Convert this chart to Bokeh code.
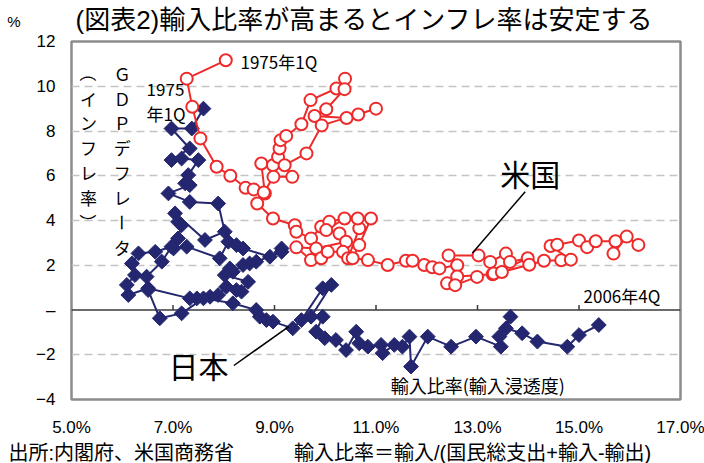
import numpy as np
from bokeh.plotting import figure
from bokeh.models import (Range1d, FixedTicker, PrintfTickFormatter, Label, Span,
                          Title, LinearAxis)
from bokeh.core.properties import value
from bokeh.embed import file_html
from bokeh.resources import INLINE

# ---------------- data ----------------
# US: import ratio (%) and GDP deflator inflation (%), 1975Q1 -> 2006Q4
us_import = [8.04, 7.27, 7.38, 7.54, 7.86, 8.13, 8.43, 8.59, 8.81,
             8.74, 8.97, 9.07, 9.10, 9.12, 9.23, 9.53, 9.71, 10.22, 10.39, 10.38,
             10.02, 9.79, 10.42, 10.65, 11.00, 9.93, 9.63, 9.20, 9.35, 8.98,
             8.79, 8.66, 8.97, 9.40, 9.43,
             9.72, 9.92, 10.08, 10.38, 10.02, 10.28, 10.41, 9.82, 9.43, 9.72,
             9.92, 10.05, 10.35, 10.45, 10.67, 10.64, 10.90, 10.67, 10.54, 10.84,
             11.23, 11.59, 11.72, 11.95, 12.11, 12.25, 12.60, 12.43, 13.02, 13.25,
             13.56, 13.64, 13.99, 13.30, 12.60, 12.40, 12.56, 12.99, 13.32, 13.48,
             14.02, 14.31, 14.65, 14.84, 14.44, 14.57, 15.00, 15.16, 15.33, 15.72,
             15.68, 15.94, 16.17]
us_inflation = [11.16, 10.34, 9.08, 7.67, 6.40, 6.00, 5.46, 5.39, 5.21,
                6.55, 6.47, 6.84, 7.22, 7.59, 7.78, 8.30, 9.38, 9.90, 10.34, 9.87,
                8.97, 8.67, 8.58, 8.74, 9.00, 8.25, 7.00, 6.47, 5.95, 5.95,
                5.25, 4.76, 4.09, 3.79, 3.50,
                3.20, 3.72, 3.94, 4.09, 3.57, 3.42, 3.05, 2.75, 2.80, 2.23,
                2.31, 2.60, 2.60, 2.31, 3.65, 4.09, 4.09, 2.90, 2.31, 2.23,
                2.01, 2.20, 2.20, 2.01, 1.91, 1.86, 2.00, 2.44, 2.44, 2.15,
                2.52, 2.15, 2.31, 1.60, 1.50, 1.19, 1.11, 1.48, 1.63, 1.70,
                2.02, 2.20, 2.22, 2.25, 2.86, 2.92, 3.11, 2.81, 3.07, 3.07,
                2.52, 3.28, 2.91]

# Japan: import ratio (%) and GDP deflator inflation (%), 1975Q1 -> 2006Q4
jp_import = [7.60, 7.37, 6.97, 7.33, 6.97, 7.17, 7.50, 7.30, 7.24, 7.33,
             6.91, 7.33, 7.89, 8.02, 7.63, 7.04, 7.10, 7.17, 7.10, 7.01,
             7.27, 7.92, 8.09, 8.25, 8.38, 8.91, 9.14, 9.14, 8.64, 8.51,
             8.38, 8.18, 8.12, 8.02, 8.48, 8.35, 8.25, 8.05, 7.89, 7.73,
             7.47, 7.33, 6.51, 6.12, 6.09, 6.25, 6.19, 6.32, 6.65, 6.97,
             6.78, 6.48, 6.51, 6.74, 7.17, 7.60, 8.18, 8.64, 8.71, 8.84,
             8.97, 9.36, 9.53, 9.95, 10.12, 9.72, 9.95, 9.82, 9.99, 10.21,
             10.41, 10.61, 10.67, 10.84, 11.10, 11.13, 11.36, 11.52, 11.66, 11.69,
             12.02, 12.48, 12.97, 13.46, 13.43, 13.65, 13.56, 13.88, 14.18, 14.77,
             15.00, 15.39]
jp_inflation = [9.00, 8.11, 8.11, 7.22, 6.70, 6.77, 6.70, 6.03, 5.66, 5.58,
                5.21, 4.83, 4.76, 3.50, 3.13, 4.32, 3.94, 3.79, 3.20, 2.75,
                2.83, 2.31, 3.05, 2.90, 2.75, 2.38, 2.75, 2.60, 2.16, 2.08,
                2.01, 1.71, 1.86, 1.56, 1.26, 0.82, 0.89, 1.04, 0.67, 0.59,
                0.52, 0.52, 0.97, 0.67, 1.12, 1.56, 2.08, 2.53, 2.60, 2.83,
                2.16, 1.49, 0.89, -0.37, -0.15, 0.52, 0.30, 0.00, -0.30, -0.45,
                -0.52, -0.82, -0.45, 0.97, 1.12, -0.30, -0.30, -0.97, -1.26, -1.34,
                -1.79, -0.97, -1.49, -1.64, -1.56, -1.93, -1.56, -1.64, -1.19, -2.53,
                -1.19, -1.64, -1.19, -1.64, -1.19, -0.30, -0.82, -1.04, -1.41, -1.64,
                -1.12, -0.67]

x_ticks = [5, 7, 9, 11, 13, 15, 17]
y_ticks = [-4, -2, 0, 2, 4, 6, 8, 10, 12]
y_tick_labels = ["−4", "−2", "–", "2", "4", "6", "8", "10", "12"]
unit_label = "%"
title_text = "(図表2)輸入比率が高まるとインフレ率は安定する"
source_text = "出所:内閣府、米国商務省"
formula_text = "輸入比率＝輸入/(国民総支出+輸入-輸出)"

FONT = "Noto Sans CJK JP"
MIX = "Liberation Sans, Noto Sans CJK JP"   # latin metrics, CJK glyphs via fallback
RED = "#EE2A2A"
NAVY = "#24276F"
PX_Y = 360 / 16.0   # px per inflation unit inside the frame

p = figure(width=704, height=463, x_range=Range1d(5, 17), y_range=Range1d(-4, 12),
           output_backend="svg", toolbar_location=None,
           min_border_left=71, min_border_right=24, min_border_top=40, min_border_bottom=63)
p.title.visible = False
p.background_fill_color = "white"
p.border_fill_color = "white"
p.outline_line_color = "#8C8C8C"
p.outline_line_width = 2.5

# ---- axes ----
p.xaxis.ticker = FixedTicker(ticks=x_ticks)
p.xaxis.formatter = PrintfTickFormatter(format="%.1f%%")
p.yaxis.ticker = FixedTicker(ticks=y_ticks)
p.yaxis.major_label_overrides = dict(zip(y_ticks, y_tick_labels))

# unit "%" shown above the top tick label, further left
p.extra_y_ranges = {"unit": Range1d(-4, 12)}
unit_axis = LinearAxis(y_range_name="unit", ticker=FixedTicker(ticks=[y_ticks[-1]]),
                       major_label_overrides={y_ticks[-1]: unit_label + "\n \n "})
p.add_layout(unit_axis, "left")

for ax in (p.xaxis[0], p.yaxis[0], unit_axis):
    ax.axis_line_color = None
    ax.major_tick_line_color = None
    ax.minor_tick_line_color = None
    ax.major_tick_out = 0
    ax.major_tick_in = 0
    ax.major_label_text_font = "Liberation Sans"
    ax.major_label_text_font_size = "17px"
    ax.major_label_text_color = "black"
p.xaxis.major_label_standoff = 18
p.yaxis[0].major_label_standoff = 16
unit_axis.major_label_text_font_size = "15px"
unit_axis.major_label_standoff = 13
unit_axis.major_label_text_baseline = "bottom"

p.xgrid.visible = False
p.ygrid.ticker = FixedTicker(ticks=[t for t in y_ticks if t != 0])
p.ygrid.grid_line_color = "#C4C4C4"
p.ygrid.grid_line_dash = "8 5"
p.ygrid.grid_line_width = 1.5

# ---- title and footer ----
p.add_layout(Title(text=title_text, text_font=MIX, text_font_size="26px",
                   text_font_style="normal", align="left", offset=4, standoff=9,
                   vertical_align="top", text_color="black"), "above")
p.add_layout(Title(text=source_text + "\u3000\u3000\u3000" + formula_text, text_font=MIX,
                   text_font_size="20px", text_font_style="normal", align="left",
                   offset=-63, standoff=0, vertical_align="bottom", text_color="black"), "below")

# ---- zero line with small upward tick marks ----
p.add_layout(Span(location=0, dimension="width", line_color="#3A3A3A", line_width=1.5, level="underlay"))
inner_ticks = [t for t in x_ticks if 5 < t < 17]
p.segment(x0=inner_ticks, y0=[0] * len(inner_ticks), x1=inner_ticks,
          y1=[5 / PX_Y] * len(inner_ticks), line_color="#3A3A3A", line_width=1.5)

# ---- series ----
p.line(jp_import, jp_inflation, line_color=NAVY, line_width=2)
p.scatter(jp_import, jp_inflation, marker="square", angle=np.pi / 4, size=10.5,
          fill_color=NAVY, line_color=NAVY, line_width=1)

p.line(us_import, us_inflation, line_color=RED, line_width=2)
p.scatter(us_import, us_inflation, marker="circle", size=12,
          fill_color="white", line_color=RED, line_width=2)

# leader lines for the series names
p.segment(x0=[13.94, 8.20], y0=[5.29, -2.48], x1=[12.90, 9.28], y1=[2.55, -0.74],
          line_color="black", line_width=1.5)


def label(x, y, text, size):
    p.add_layout(Label(x=x, y=y, text=text, text_font=FONT, text_font_size=size,
                       text_align="left", text_baseline="middle", text_color="black"))


label(8.33, 11.11, "1975年1Q", "17px")
label(6.48, 9.87, "1975", "17px")
label(6.48, 8.80, "年1Q", "17px")
label(13.45, 6.13, "米国", "30px")
label(6.91, -2.44, "日本", "30px")
label(15.09, 0.67, "2006年4Q", "17px")
label(11.29, -3.33, "輸入比率(輸入浸透度)", "18px")

# vertical axis title in two columns (right column read first)
right_col = list("ＧＤＰデフレータ")
left_col = list("（インフレ率）")
rot = {"ー", "（", "）"}
step = 25 / PX_Y
y0 = 10.58
chars = right_col + left_col
cx = [6.00] * len(right_col) + [5.335] * len(left_col)
cy = [y0 - i * step for i in range(len(right_col))] + [y0 - i * step for i in range(len(left_col))]
ang = [-np.pi / 2 if c in rot else 0.0 for c in chars]
p.text(x=cx, y=cy, text=chars, angle=ang, text_font=value(FONT), text_font_size="17px",
       text_align="center", text_baseline="middle", text_color="black")

open("out.html", "w").write(file_html(p, INLINE))
